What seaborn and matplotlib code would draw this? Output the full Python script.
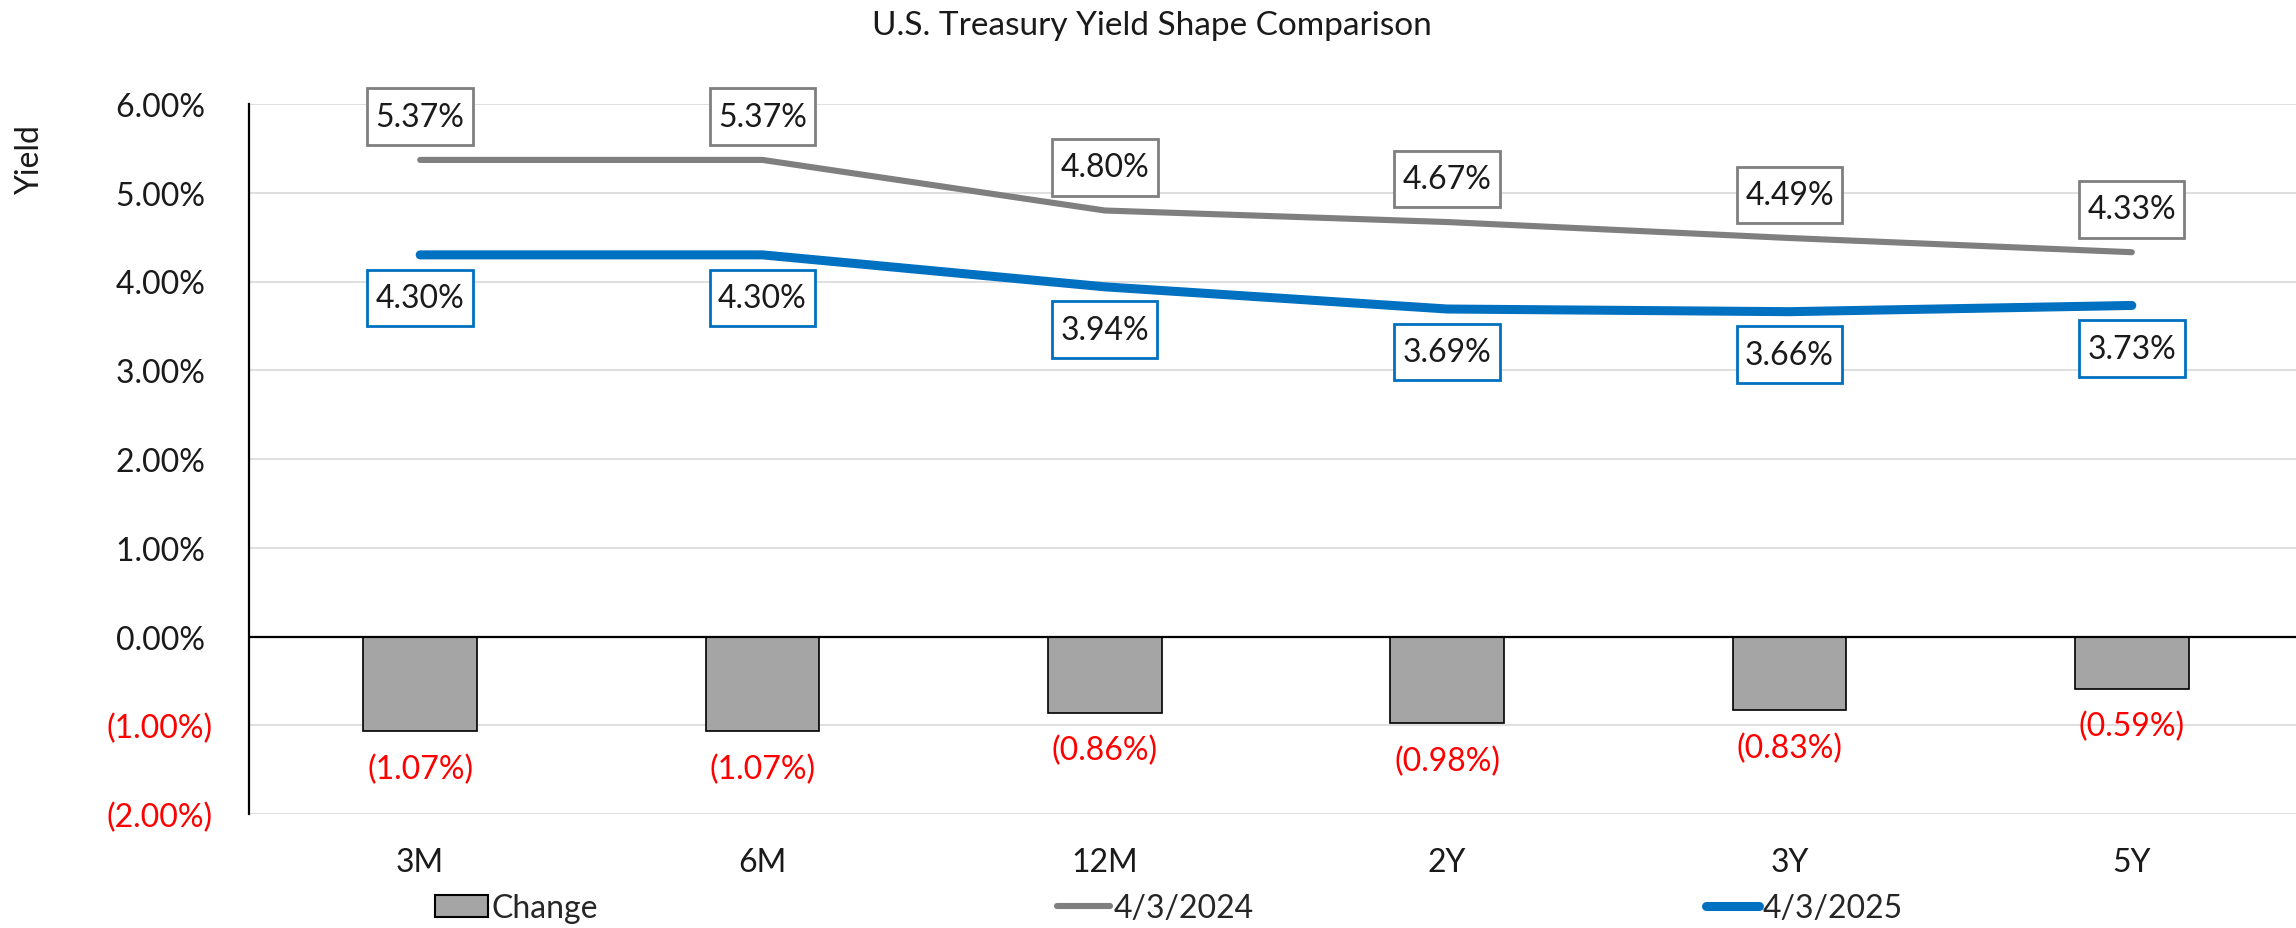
import pandas as pd
import seaborn as sns
import matplotlib.pyplot as plt
from matplotlib.patches import Patch
from matplotlib.lines import Line2D
from matplotlib.path import Path

# Data
tenors = ['3M', '6M', '12M', '2Y', '3Y', '5Y']
yield_2024 = [5.37, 5.37, 4.80, 4.67, 4.49, 4.33]
yield_2025 = [4.30, 4.30, 3.94, 3.69, 3.66, 3.73]
change = [-1.07, -1.07, -0.86, -0.98, -0.83, -0.59]
y_ticks = [-2, -1, 0, 1, 2, 3, 4, 5, 6]
series_names = ['Change', '4/3/2024', '4/3/2025']

gray = '#7F7F7F'
blue = '#0070C0'
bar_gray = '#A5A5A5'
red = '#FF0000'
ink = '#1A1A1A'

df = pd.DataFrame({'tenor': tenors, 'y2024': yield_2024,
                   'y2025': yield_2025, 'change': change})

sns.set_style('white')
plt.rcParams['font.family'] = ['Lato', 'DejaVu Sans']
fs = 23


def label_box(x0, y0, width, height, mutation_size):
    # rectangle a bit taller than wide padding, like the Excel data labels
    px = 0.26 * mutation_size
    py = 0.42 * mutation_size
    x0, y0 = x0 - px, y0 - py
    x1, y1 = x0 + width + 2 * px, y0 + height + 2 * py
    return Path([(x0, y0), (x1, y0), (x1, y1), (x0, y1), (x0, y0)], closed=True)


fig = plt.figure(figsize=(22.96, 9.29), dpi=100)
ax = fig.add_axes([249 / 2296, 114 / 929, 2054 / 2296, 710 / 929])

# bars for the change
sns.barplot(data=df, x='tenor', y='change', color=bar_gray, saturation=1,
            width=0.333, edgecolor='black', linewidth=1.2, ax=ax, zorder=3)

# yield curves
sns.lineplot(data=df, x='tenor', y='y2024', color=gray, linewidth=4.4,
             solid_capstyle='round', ax=ax, zorder=4)
sns.lineplot(data=df, x='tenor', y='y2025', color=blue, linewidth=6.5,
             solid_capstyle='round', ax=ax, zorder=5)

ax.set_xlim(-0.5, 5.5)
ax.set_ylim(-2, 6)
ax.set_yticks(y_ticks)
ax.set_yticklabels([f'{t:.2f}% ' if t >= 0 else f'({abs(t):.2f}%)' for t in y_ticks])
for lbl, t in zip(ax.get_yticklabels(), y_ticks):
    lbl.set_color(red if t < 0 else ink)
ax.tick_params(axis='y', length=0, pad=26, labelsize=fs)
ax.tick_params(axis='x', length=0, pad=24, labelsize=fs, labelcolor=ink)

ax.grid(axis='y', color='#D9D9D9', linewidth=1.2, zorder=0)
ax.set_axisbelow(True)
ax.axhline(0, color='black', linewidth=1.6, zorder=6)
for s in ['top', 'right', 'bottom']:
    ax.spines[s].set_visible(False)
ax.spines['left'].set_color('black')
ax.spines['left'].set_linewidth(1.6)
ax.set_xlabel('')
ax.set_ylabel('')

# data labels
for i, v in enumerate(yield_2024):
    ax.annotate(f'{v:.2f}%', xy=(i, v), xytext=(0, 31), textcoords='offset points',
                ha='center', va='center', fontsize=fs, color=ink, zorder=7,
                bbox=dict(boxstyle=label_box, fc='white', ec=gray, lw=2))
for i, v in enumerate(yield_2025):
    ax.annotate(f'{v:.2f}%', xy=(i, v), xytext=(0, -31), textcoords='offset points',
                ha='center', va='center', fontsize=fs, color=ink, zorder=7,
                bbox=dict(boxstyle=label_box, fc='white', ec=blue, lw=2))
for i, v in enumerate(change):
    ax.annotate(f'({abs(v):.2f}%)', xy=(i, v), xytext=(0, -27), textcoords='offset points',
                ha='center', va='center', fontsize=fs, color=red)

fig.text(1152 / 2296, 1 - 26 / 929, 'U.S. Treasury Yield Shape Comparison',
         ha='center', va='center', fontsize=24, color=ink)
fig.text(30 / 2296, 1 - 160 / 929, 'Yield', rotation=90, ha='center', va='center',
         fontsize=fs, color=ink)

# legend entries, spread along the bottom like the original
handles = [Patch(facecolor=bar_gray, edgecolor='black', linewidth=1.5),
           Line2D([], [], color=gray, linewidth=4.4, solid_capstyle='round'),
           Line2D([], [], color=blue, linewidth=6.5, solid_capstyle='round')]
legend_x = [435, 1057, 1706]
for h, name, lx in zip(handles, series_names, legend_x):
    fig.legend([h], [name], frameon=False, loc='center left',
               bbox_to_anchor=(lx / 2296, 20 / 929), borderpad=0, borderaxespad=0,
               fontsize=fs, handlelength=1.65, handletextpad=0.12)

plt.savefig('out.png', dpi=100)
plt.close()
